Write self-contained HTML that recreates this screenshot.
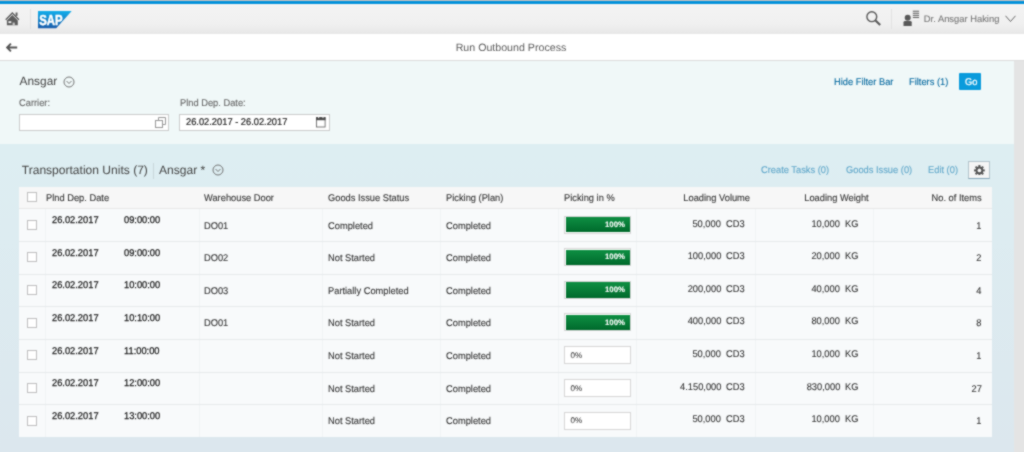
<!DOCTYPE html>
<html><head><meta charset="utf-8"><title>Run Outbound Process</title>
<style>
*{box-sizing:border-box;margin:0;padding:0}
html,body{width:1024px;height:452px;overflow:hidden;background:#dde9ef;font-family:"Liberation Sans",Arial,sans-serif;}
body{position:relative;color:#333;text-rendering:geometricPrecision;-webkit-text-stroke:0.1px}
.abs{position:absolute;white-space:nowrap}
#topgray{left:0;top:0;width:1024px;height:1.2px;background:#c2c2c2}
#topblue{left:0;top:0;width:1024px;height:4.4px;background:#0592da}
#shell{left:0;top:0;width:1024px;height:33.5px;background:linear-gradient(#f3f3f3 15%,#f0f0f0 70%,#e7e7e7 100%)}
#titlebar{left:0;top:30px;width:1024px;height:30.5px;background:#fff;border-bottom:1px solid #dcdcdc}
#filter{left:0;top:55px;width:1024px;height:89px;background:#f0f8f8}
#content{left:0;top:143.7px;width:1024px;height:309px;background:linear-gradient(#ddeef2,#dce7ee)}
#scroll{left:1013.6px;top:55px;width:11px;height:398px;background:#e4e4e4}
.inp{background:#fff;border:1px solid #cbcbcb;height:17.6px}
#go{left:959.2px;top:73.2px;width:22px;height:16.8px;background:#0a9bdc;border-radius:1px}
#tbl{left:19px;top:186.6px;width:973px;height:250.7px;background:#f8fafb}
#thead{left:19px;top:186.6px;width:973px;height:22.4px;background:#f7f7f7;border-bottom:1px solid #e8e8e8}
.hl{height:1px;background:#e6eaec;left:19px;width:973px}
.vl{width:1px;background:#f0f3f4;top:209px;height:228px}
.cb{width:10px;height:10px;border:1px solid #bfbfbf;background:#fff}
.pb{width:66.9px;height:18px;border:1px solid #d6d6d6;background:#fff}
.pbf{width:64.7px;height:15.2px;background:linear-gradient(#0e8f43,#006a2c)}
#wrap{position:absolute;left:0;top:0;width:1024px;height:452px;overflow:hidden;background:#dde9ef;filter:url(#soft)}
</style></head><body>
<svg width="0" height="0" style="position:absolute"><filter id="soft" x="0" y="0" width="100%" height="100%" color-interpolation-filters="sRGB"><feConvolveMatrix order="3" kernelMatrix="1 2 1 2 10 2 1 2 1" divisor="22" edgeMode="duplicate" preserveAlpha="true"/></filter></svg>
<div id="wrap">
<div class="abs" id="filter"></div>
<div class="abs" id="content"></div>
<div class="abs" id="scroll"></div>
<div class="abs" id="titlebar"></div>
<div class="abs" id="shell"></div>
<div class="abs" id="topblue"></div>
<div class="abs" id="topgray"></div>


<svg class="abs" style="left:4.8px;top:11.5px" width="15" height="14" viewBox="0 0 15 14"><path d="M0.7 7.7 L7.3 1 L13.9 7.7" fill="none" stroke="#5c5c5c" stroke-width="1.3"/><rect x="10.6" y="0.5" width="1.9" height="3.4" fill="#5c5c5c"/><path d="M1.9 8.5 L7.3 3.1 L12.8 8.5 V13.3 H1.9 Z" fill="#5c5c5c"/><rect x="3.4" y="9.2" width="2.9" height="1.9" fill="#f0f0f0"/><rect x="7.6" y="10.6" width="2.2" height="2.8" fill="#c8c8c8"/></svg>
<div class="abs" style="left:30px;top:9px;width:1px;height:20px;background:#e2e2e2"></div>
<svg class="abs" style="left:38.1px;top:10.8px" width="34" height="18" viewBox="0 0 34 18"><defs><linearGradient id="sg" x1="0" y1="0" x2="0" y2="1"><stop offset="0" stop-color="#12aeeb"/><stop offset="1" stop-color="#1a5cab"/></linearGradient></defs><path d="M0 0 H33.7 L18.2 17.3 H0 Z" fill="url(#sg)"/><text x="1.2" y="14.3" font-family="Liberation Sans, Arial, sans-serif" font-weight="bold" font-size="14.5" fill="#fff" textLength="23.4" lengthAdjust="spacingAndGlyphs" stroke="#fff" stroke-width="0.5">SAP</text></svg>
<svg class="abs" style="left:864.7px;top:10px" width="18" height="18" viewBox="0 0 18 18"><circle cx="6.8" cy="6.7" r="4.9" fill="none" stroke="#595959" stroke-width="1.4"/><path d="M10.5 10.4 L15.2 15.1" stroke="#595959" stroke-width="2.1"/></svg>
<div class="abs" style="left:891px;top:9px;width:1px;height:20px;background:#e2e2e2"></div>
<svg class="abs" style="left:902.5px;top:10px" width="18" height="17" viewBox="0 0 18 17"><circle cx="4.7" cy="7.7" r="3" fill="#595959"/><path d="M0.5 15.9 V12.3 Q0.5 10.9 2 10.9 H7.2 Q8.7 10.9 8.7 12.3 V15.9 Z" fill="#595959"/><g fill="#4a4a4a"><rect x="9.8" y="0.75" width="6.3" height="0.9"/><rect x="9.8" y="2.82" width="6.3" height="0.9"/><rect x="9.8" y="4.89" width="6.3" height="0.9"/><rect x="9.8" y="6.96" width="6.3" height="0.9"/></g></svg>
<svg class="abs" style="left:1005px;top:15px" width="11" height="8" viewBox="0 0 11 8"><path d="M0.5 0.8 L5.5 6.5 L10.5 0.8" fill="none" stroke="#666" stroke-width="1"/></svg>
<svg class="abs" style="left:5.5px;top:42.6px" width="12" height="9" viewBox="0 0 12 9"><path d="M4.9 0.7 L1.2 4.5 L4.9 8.3 M1.2 4.5 H11.2" fill="none" stroke="#555" stroke-width="1.9"/></svg>

<div class="abs" style="left:923.84px;transform-origin:0 50%;top:12.84px;font-size:9.40px;line-height:12px;color:#777;transform:scaleX(1.0000);">Dr. Ansgar Haking</div>
<div class="abs" style="left:455.66px;transform-origin:0 50%;top:40.51px;font-size:10.65px;line-height:14px;color:#5c5c5c;transform:scaleX(1.0000);-webkit-text-stroke:0;">Run Outbound Process</div>
<div class="abs" style="left:19.59px;transform-origin:0 50%;top:74.28px;font-size:11.90px;line-height:15px;color:#444;transform:scaleX(1.0000);-webkit-text-stroke:0;">Ansgar</div>

<svg class="abs" style="left:63.3px;top:75.6px" width="12" height="12" viewBox="0 0 12 12"><circle cx="6" cy="6" r="5" fill="none" stroke="#666" stroke-width="0.9"/><path d="M3.5 5 L6 7.5 L8.5 5" fill="none" stroke="#666" stroke-width="0.9"/></svg>
<div class="abs inp" style="left:19px;top:113.6px;width:150px"></div>
<svg class="abs" style="left:155px;top:116.5px" width="11" height="11" viewBox="0 0 11 11"><path d="M3.5 3.5 V0.5 H10.5 V7.5 H7.5" fill="none" stroke="#999" stroke-width="1"/><rect x="0.5" y="3.5" width="7" height="7" fill="none" stroke="#999" stroke-width="1"/></svg>
<div class="abs inp" style="left:179.1px;top:113.6px;width:150.9px"></div>
<svg class="abs" style="left:316.2px;top:117.4px" width="10" height="11" viewBox="0 0 10 11"><rect x="0.5" y="0.6" width="8.6" height="9.4" fill="#fff" stroke="#6a6a6a" stroke-width="0.9"/><rect x="0.1" y="0.2" width="9.4" height="3" fill="#4a4a4a"/><rect x="2" y="0" width="1.2" height="1.2" fill="#ddd"/><rect x="6.4" y="0" width="1.2" height="1.2" fill="#ddd"/></svg>
<div class="abs" id="go"></div>

<div class="abs" style="left:19.34px;transform-origin:0 50%;top:97.12px;font-size:9.77px;line-height:13px;color:#666;transform:scaleX(0.9524);">Carrier:</div>
<div class="abs" style="left:180.44px;transform-origin:0 50%;top:97.12px;font-size:9.77px;line-height:13px;color:#666;transform:scaleX(0.9524);">Plnd Dep. Date:</div>
<div class="abs" style="left:185.94px;transform-origin:0 50%;top:116.22px;font-size:9.77px;line-height:13px;color:#222;transform:scaleX(0.9524);-webkit-text-stroke:0.2px;">26.02.2017 - 26.02.2017</div>
<div class="abs" style="left:833.84px;transform-origin:0 50%;top:75.82px;font-size:9.77px;line-height:13px;color:#00679e;transform:scaleX(0.9524);">Hide Filter Bar</div>
<div class="abs" style="left:909.34px;transform-origin:0 50%;top:75.82px;font-size:9.77px;line-height:13px;color:#00679e;transform:scaleX(0.9524);">Filters (1)</div>
<div class="abs" style="left:964.54px;transform-origin:0 50%;top:75.62px;font-size:9.77px;line-height:13px;color:#fff;transform:scaleX(0.9524);-webkit-text-stroke:0.25px;">Go</div>
<div class="abs" style="left:21.78px;transform-origin:0 50%;top:162.32px;font-size:12.05px;line-height:16px;color:#444;transform:scaleX(1.0000);-webkit-text-stroke:0;">Transportation Units (7)</div>
<div class="abs" style="left:153px;top:163px;width:1px;height:16px;background:#c9d6da"></div>
<div class="abs" style="left:159.08px;transform-origin:0 50%;top:162.32px;font-size:12.05px;line-height:16px;color:#444;transform:scaleX(1.0000);-webkit-text-stroke:0;">Ansgar *</div>

<svg class="abs" style="left:211.5px;top:163.6px" width="12" height="12" viewBox="0 0 12 12"><circle cx="6" cy="6" r="5" fill="none" stroke="#666" stroke-width="0.9"/><path d="M3.5 5 L6 7.5 L8.5 5" fill="none" stroke="#666" stroke-width="0.9"/></svg>
<div class="abs" style="left:968.2px;top:161.4px;width:21.5px;height:17.6px;background:#f5f5f5;border:1px solid #b3c3cb;border-bottom-color:#86a6b8"></div>
<svg class="abs" style="left:973.8px;top:164.7px" width="10.8" height="10.8" viewBox="0 0 12 12"><g fill="#555"><circle cx="6" cy="6" r="4.2"/><rect x="4.9" y="0" width="2.2" height="12"/><rect x="0" y="4.9" width="12" height="2.2"/><rect x="4.9" y="0" width="2.2" height="12" transform="rotate(45 6 6)"/><rect x="4.9" y="0" width="2.2" height="12" transform="rotate(-45 6 6)"/></g><circle cx="6" cy="6" r="2.1" fill="#f5f5f5"/></svg>

<div class="abs" style="left:761.24px;transform-origin:0 50%;top:164.12px;font-size:9.77px;line-height:13px;color:#5fa6c9;transform:scaleX(0.9524);">Create Tasks (0)</div>
<div class="abs" style="left:846.34px;transform-origin:0 50%;top:164.12px;font-size:9.77px;line-height:13px;color:#5fa6c9;transform:scaleX(0.9524);">Goods Issue (0)</div>
<div class="abs" style="left:928.44px;transform-origin:0 50%;top:164.12px;font-size:9.77px;line-height:13px;color:#5fa6c9;transform:scaleX(0.9524);">Edit (0)</div>
<div class="abs" id="tbl"></div><div class="abs" id="thead"></div>
<div class="abs cb" style="left:27px;top:192.2px"></div>
<div class="abs" style="left:46.44px;transform-origin:0 50%;top:191.52px;font-size:9.77px;line-height:13px;color:#333;transform:scaleX(0.9524);">Plnd Dep. Date</div>
<div class="abs" style="left:204.44px;transform-origin:0 50%;top:191.52px;font-size:9.77px;line-height:13px;color:#333;transform:scaleX(0.9524);">Warehouse Door</div>
<div class="abs" style="left:328.44px;transform-origin:0 50%;top:191.52px;font-size:9.77px;line-height:13px;color:#333;transform:scaleX(0.9524);">Goods Issue Status</div>
<div class="abs" style="left:446.44px;transform-origin:0 50%;top:191.52px;font-size:9.77px;line-height:13px;color:#333;transform:scaleX(0.9524);">Picking (Plan)</div>
<div class="abs" style="left:564.44px;transform-origin:0 50%;top:191.52px;font-size:9.77px;line-height:13px;color:#333;transform:scaleX(0.9524);">Picking in %</div>
<div class="abs" style="right:273.84px;transform-origin:100% 50%;top:191.52px;font-size:9.77px;line-height:13px;color:#333;transform:scaleX(0.9524);">Loading Volume</div>
<div class="abs" style="right:155.54px;transform-origin:100% 50%;top:191.52px;font-size:9.77px;line-height:13px;color:#333;transform:scaleX(0.9524);">Loading Weight</div>
<div class="abs" style="right:42.14px;transform-origin:100% 50%;top:191.52px;font-size:9.77px;line-height:13px;color:#333;transform:scaleX(0.9524);">No. of Items</div>
<div class="abs vl" style="left:45px"></div>
<div class="abs vl" style="left:198.5px"></div>
<div class="abs vl" style="left:322px"></div>
<div class="abs vl" style="left:440px"></div>
<div class="abs vl" style="left:558px"></div>
<div class="abs vl" style="left:636px"></div>
<div class="abs vl" style="left:754.5px"></div>
<div class="abs vl" style="left:873px"></div>
<div class="abs cb" style="left:27px;top:219.80px"></div>
<div class="abs" style="left:52.04px;transform-origin:0 50%;top:214.22px;font-size:9.77px;line-height:13px;color:#1a1a1a;transform:scaleX(0.9524);-webkit-text-stroke:0.25px;">26.02.2017</div>
<div class="abs" style="left:123.74px;transform-origin:0 50%;top:214.22px;font-size:9.77px;line-height:13px;color:#1a1a1a;transform:scaleX(0.9524);-webkit-text-stroke:0.25px;">09:00:00</div>
<div class="abs" style="left:204.44px;transform-origin:0 50%;top:219.52px;font-size:9.77px;line-height:13px;color:#333;transform:scaleX(0.9524);">DO01</div>
<div class="abs" style="left:328.44px;transform-origin:0 50%;top:219.52px;font-size:9.77px;line-height:13px;color:#333;transform:scaleX(0.9524);">Completed</div>
<div class="abs" style="left:446.44px;transform-origin:0 50%;top:219.52px;font-size:9.77px;line-height:13px;color:#333;transform:scaleX(0.9524);">Completed</div>
<div class="abs pb" style="left:564px;top:215.50px"></div><div class="abs pbf" style="left:565.6px;top:217.10px"></div>
<div class="abs" style="right:399.03px;transform-origin:100% 50%;top:219.70px;font-size:7.80px;line-height:10px;color:#fff;transform:scaleX(1.0000);font-weight:bold;">100%</div>
<div class="abs" style="right:302.69px;transform-origin:100% 50%;top:217.62px;font-size:9.77px;line-height:13px;color:#333;transform:scaleX(0.9524);">50,000</div>
<div class="abs" style="left:726.44px;transform-origin:0 50%;top:217.62px;font-size:9.77px;line-height:13px;color:#333;transform:scaleX(0.9524);">CD3</div>
<div class="abs" style="right:183.69px;transform-origin:100% 50%;top:217.62px;font-size:9.77px;line-height:13px;color:#333;transform:scaleX(0.9524);">10,000</div>
<div class="abs" style="left:844.94px;transform-origin:0 50%;top:217.62px;font-size:9.77px;line-height:13px;color:#333;transform:scaleX(0.9524);">KG</div>
<div class="abs" style="right:42.44px;transform-origin:100% 50%;top:219.52px;font-size:9.77px;line-height:13px;color:#333;transform:scaleX(0.9524);">1</div>
<div class="abs hl" style="top:241.12px"></div>
<div class="abs cb" style="left:27px;top:252.42px"></div>
<div class="abs" style="left:52.04px;transform-origin:0 50%;top:246.84px;font-size:9.77px;line-height:13px;color:#1a1a1a;transform:scaleX(0.9524);-webkit-text-stroke:0.25px;">26.02.2017</div>
<div class="abs" style="left:123.74px;transform-origin:0 50%;top:246.84px;font-size:9.77px;line-height:13px;color:#1a1a1a;transform:scaleX(0.9524);-webkit-text-stroke:0.25px;">09:00:00</div>
<div class="abs" style="left:204.44px;transform-origin:0 50%;top:252.14px;font-size:9.77px;line-height:13px;color:#333;transform:scaleX(0.9524);">DO02</div>
<div class="abs" style="left:328.44px;transform-origin:0 50%;top:252.14px;font-size:9.77px;line-height:13px;color:#333;transform:scaleX(0.9524);">Not Started</div>
<div class="abs" style="left:446.44px;transform-origin:0 50%;top:252.14px;font-size:9.77px;line-height:13px;color:#333;transform:scaleX(0.9524);">Completed</div>
<div class="abs pb" style="left:564px;top:248.12px"></div><div class="abs pbf" style="left:565.6px;top:249.72px"></div>
<div class="abs" style="right:399.03px;transform-origin:100% 50%;top:252.32px;font-size:7.80px;line-height:10px;color:#fff;transform:scaleX(1.0000);font-weight:bold;">100%</div>
<div class="abs" style="right:302.69px;transform-origin:100% 50%;top:250.24px;font-size:9.77px;line-height:13px;color:#333;transform:scaleX(0.9524);">100,000</div>
<div class="abs" style="left:726.44px;transform-origin:0 50%;top:250.24px;font-size:9.77px;line-height:13px;color:#333;transform:scaleX(0.9524);">CD3</div>
<div class="abs" style="right:183.69px;transform-origin:100% 50%;top:250.24px;font-size:9.77px;line-height:13px;color:#333;transform:scaleX(0.9524);">20,000</div>
<div class="abs" style="left:844.94px;transform-origin:0 50%;top:250.24px;font-size:9.77px;line-height:13px;color:#333;transform:scaleX(0.9524);">KG</div>
<div class="abs" style="right:42.44px;transform-origin:100% 50%;top:252.14px;font-size:9.77px;line-height:13px;color:#333;transform:scaleX(0.9524);">2</div>
<div class="abs hl" style="top:273.74px"></div>
<div class="abs cb" style="left:27px;top:285.04px"></div>
<div class="abs" style="left:52.04px;transform-origin:0 50%;top:279.46px;font-size:9.77px;line-height:13px;color:#1a1a1a;transform:scaleX(0.9524);-webkit-text-stroke:0.25px;">26.02.2017</div>
<div class="abs" style="left:123.74px;transform-origin:0 50%;top:279.46px;font-size:9.77px;line-height:13px;color:#1a1a1a;transform:scaleX(0.9524);-webkit-text-stroke:0.25px;">10:00:00</div>
<div class="abs" style="left:204.44px;transform-origin:0 50%;top:284.76px;font-size:9.77px;line-height:13px;color:#333;transform:scaleX(0.9524);">DO03</div>
<div class="abs" style="left:328.44px;transform-origin:0 50%;top:284.76px;font-size:9.77px;line-height:13px;color:#333;transform:scaleX(0.9524);">Partially Completed</div>
<div class="abs" style="left:446.44px;transform-origin:0 50%;top:284.76px;font-size:9.77px;line-height:13px;color:#333;transform:scaleX(0.9524);">Completed</div>
<div class="abs pb" style="left:564px;top:280.74px"></div><div class="abs pbf" style="left:565.6px;top:282.34px"></div>
<div class="abs" style="right:399.03px;transform-origin:100% 50%;top:284.94px;font-size:7.80px;line-height:10px;color:#fff;transform:scaleX(1.0000);font-weight:bold;">100%</div>
<div class="abs" style="right:302.69px;transform-origin:100% 50%;top:282.86px;font-size:9.77px;line-height:13px;color:#333;transform:scaleX(0.9524);">200,000</div>
<div class="abs" style="left:726.44px;transform-origin:0 50%;top:282.86px;font-size:9.77px;line-height:13px;color:#333;transform:scaleX(0.9524);">CD3</div>
<div class="abs" style="right:183.69px;transform-origin:100% 50%;top:282.86px;font-size:9.77px;line-height:13px;color:#333;transform:scaleX(0.9524);">40,000</div>
<div class="abs" style="left:844.94px;transform-origin:0 50%;top:282.86px;font-size:9.77px;line-height:13px;color:#333;transform:scaleX(0.9524);">KG</div>
<div class="abs" style="right:42.44px;transform-origin:100% 50%;top:284.76px;font-size:9.77px;line-height:13px;color:#333;transform:scaleX(0.9524);">4</div>
<div class="abs hl" style="top:306.36px"></div>
<div class="abs cb" style="left:27px;top:317.66px"></div>
<div class="abs" style="left:52.04px;transform-origin:0 50%;top:312.08px;font-size:9.77px;line-height:13px;color:#1a1a1a;transform:scaleX(0.9524);-webkit-text-stroke:0.25px;">26.02.2017</div>
<div class="abs" style="left:123.74px;transform-origin:0 50%;top:312.08px;font-size:9.77px;line-height:13px;color:#1a1a1a;transform:scaleX(0.9524);-webkit-text-stroke:0.25px;">10:10:00</div>
<div class="abs" style="left:204.44px;transform-origin:0 50%;top:317.38px;font-size:9.77px;line-height:13px;color:#333;transform:scaleX(0.9524);">DO01</div>
<div class="abs" style="left:328.44px;transform-origin:0 50%;top:317.38px;font-size:9.77px;line-height:13px;color:#333;transform:scaleX(0.9524);">Not Started</div>
<div class="abs" style="left:446.44px;transform-origin:0 50%;top:317.38px;font-size:9.77px;line-height:13px;color:#333;transform:scaleX(0.9524);">Completed</div>
<div class="abs pb" style="left:564px;top:313.36px"></div><div class="abs pbf" style="left:565.6px;top:314.96px"></div>
<div class="abs" style="right:399.03px;transform-origin:100% 50%;top:317.56px;font-size:7.80px;line-height:10px;color:#fff;transform:scaleX(1.0000);font-weight:bold;">100%</div>
<div class="abs" style="right:302.69px;transform-origin:100% 50%;top:315.48px;font-size:9.77px;line-height:13px;color:#333;transform:scaleX(0.9524);">400,000</div>
<div class="abs" style="left:726.44px;transform-origin:0 50%;top:315.48px;font-size:9.77px;line-height:13px;color:#333;transform:scaleX(0.9524);">CD3</div>
<div class="abs" style="right:183.69px;transform-origin:100% 50%;top:315.48px;font-size:9.77px;line-height:13px;color:#333;transform:scaleX(0.9524);">80,000</div>
<div class="abs" style="left:844.94px;transform-origin:0 50%;top:315.48px;font-size:9.77px;line-height:13px;color:#333;transform:scaleX(0.9524);">KG</div>
<div class="abs" style="right:42.44px;transform-origin:100% 50%;top:317.38px;font-size:9.77px;line-height:13px;color:#333;transform:scaleX(0.9524);">8</div>
<div class="abs hl" style="top:338.98px"></div>
<div class="abs cb" style="left:27px;top:350.28px"></div>
<div class="abs" style="left:52.04px;transform-origin:0 50%;top:344.70px;font-size:9.77px;line-height:13px;color:#1a1a1a;transform:scaleX(0.9524);-webkit-text-stroke:0.25px;">26.02.2017</div>
<div class="abs" style="left:123.74px;transform-origin:0 50%;top:344.70px;font-size:9.77px;line-height:13px;color:#1a1a1a;transform:scaleX(0.9524);-webkit-text-stroke:0.25px;">11:00:00</div>
<div class="abs" style="left:328.44px;transform-origin:0 50%;top:350.00px;font-size:9.77px;line-height:13px;color:#333;transform:scaleX(0.9524);">Not Started</div>
<div class="abs" style="left:446.44px;transform-origin:0 50%;top:350.00px;font-size:9.77px;line-height:13px;color:#333;transform:scaleX(0.9524);">Completed</div>
<div class="abs pb" style="left:564px;top:346.28px"></div>
<div class="abs" style="left:570.51px;transform-origin:0 50%;top:349.97px;font-size:8.10px;line-height:11px;color:#444;transform:scaleX(1.0000);">0%</div>
<div class="abs" style="right:302.69px;transform-origin:100% 50%;top:348.10px;font-size:9.77px;line-height:13px;color:#333;transform:scaleX(0.9524);">50,000</div>
<div class="abs" style="left:726.44px;transform-origin:0 50%;top:348.10px;font-size:9.77px;line-height:13px;color:#333;transform:scaleX(0.9524);">CD3</div>
<div class="abs" style="right:183.69px;transform-origin:100% 50%;top:348.10px;font-size:9.77px;line-height:13px;color:#333;transform:scaleX(0.9524);">10,000</div>
<div class="abs" style="left:844.94px;transform-origin:0 50%;top:348.10px;font-size:9.77px;line-height:13px;color:#333;transform:scaleX(0.9524);">KG</div>
<div class="abs" style="right:42.44px;transform-origin:100% 50%;top:350.00px;font-size:9.77px;line-height:13px;color:#333;transform:scaleX(0.9524);">1</div>
<div class="abs hl" style="top:371.60px"></div>
<div class="abs cb" style="left:27px;top:382.90px"></div>
<div class="abs" style="left:52.04px;transform-origin:0 50%;top:377.32px;font-size:9.77px;line-height:13px;color:#1a1a1a;transform:scaleX(0.9524);-webkit-text-stroke:0.25px;">26.02.2017</div>
<div class="abs" style="left:123.74px;transform-origin:0 50%;top:377.32px;font-size:9.77px;line-height:13px;color:#1a1a1a;transform:scaleX(0.9524);-webkit-text-stroke:0.25px;">12:00:00</div>
<div class="abs" style="left:328.44px;transform-origin:0 50%;top:382.62px;font-size:9.77px;line-height:13px;color:#333;transform:scaleX(0.9524);">Not Started</div>
<div class="abs" style="left:446.44px;transform-origin:0 50%;top:382.62px;font-size:9.77px;line-height:13px;color:#333;transform:scaleX(0.9524);">Completed</div>
<div class="abs pb" style="left:564px;top:378.90px"></div>
<div class="abs" style="left:570.51px;transform-origin:0 50%;top:382.59px;font-size:8.10px;line-height:11px;color:#444;transform:scaleX(1.0000);">0%</div>
<div class="abs" style="right:302.69px;transform-origin:100% 50%;top:380.72px;font-size:9.77px;line-height:13px;color:#333;transform:scaleX(0.9524);">4.150,000</div>
<div class="abs" style="left:726.44px;transform-origin:0 50%;top:380.72px;font-size:9.77px;line-height:13px;color:#333;transform:scaleX(0.9524);">CD3</div>
<div class="abs" style="right:183.69px;transform-origin:100% 50%;top:380.72px;font-size:9.77px;line-height:13px;color:#333;transform:scaleX(0.9524);">830,000</div>
<div class="abs" style="left:844.94px;transform-origin:0 50%;top:380.72px;font-size:9.77px;line-height:13px;color:#333;transform:scaleX(0.9524);">KG</div>
<div class="abs" style="right:42.44px;transform-origin:100% 50%;top:382.62px;font-size:9.77px;line-height:13px;color:#333;transform:scaleX(0.9524);">27</div>
<div class="abs hl" style="top:404.22px"></div>
<div class="abs cb" style="left:27px;top:415.52px"></div>
<div class="abs" style="left:52.04px;transform-origin:0 50%;top:409.94px;font-size:9.77px;line-height:13px;color:#1a1a1a;transform:scaleX(0.9524);-webkit-text-stroke:0.25px;">26.02.2017</div>
<div class="abs" style="left:123.74px;transform-origin:0 50%;top:409.94px;font-size:9.77px;line-height:13px;color:#1a1a1a;transform:scaleX(0.9524);-webkit-text-stroke:0.25px;">13:00:00</div>
<div class="abs" style="left:328.44px;transform-origin:0 50%;top:415.24px;font-size:9.77px;line-height:13px;color:#333;transform:scaleX(0.9524);">Not Started</div>
<div class="abs" style="left:446.44px;transform-origin:0 50%;top:415.24px;font-size:9.77px;line-height:13px;color:#333;transform:scaleX(0.9524);">Completed</div>
<div class="abs pb" style="left:564px;top:411.52px"></div>
<div class="abs" style="left:570.51px;transform-origin:0 50%;top:415.21px;font-size:8.10px;line-height:11px;color:#444;transform:scaleX(1.0000);">0%</div>
<div class="abs" style="right:302.69px;transform-origin:100% 50%;top:413.34px;font-size:9.77px;line-height:13px;color:#333;transform:scaleX(0.9524);">50,000</div>
<div class="abs" style="left:726.44px;transform-origin:0 50%;top:413.34px;font-size:9.77px;line-height:13px;color:#333;transform:scaleX(0.9524);">CD3</div>
<div class="abs" style="right:183.69px;transform-origin:100% 50%;top:413.34px;font-size:9.77px;line-height:13px;color:#333;transform:scaleX(0.9524);">10,000</div>
<div class="abs" style="left:844.94px;transform-origin:0 50%;top:413.34px;font-size:9.77px;line-height:13px;color:#333;transform:scaleX(0.9524);">KG</div>
<div class="abs" style="right:42.44px;transform-origin:100% 50%;top:415.24px;font-size:9.77px;line-height:13px;color:#333;transform:scaleX(0.9524);">1</div>
</div></body></html>
